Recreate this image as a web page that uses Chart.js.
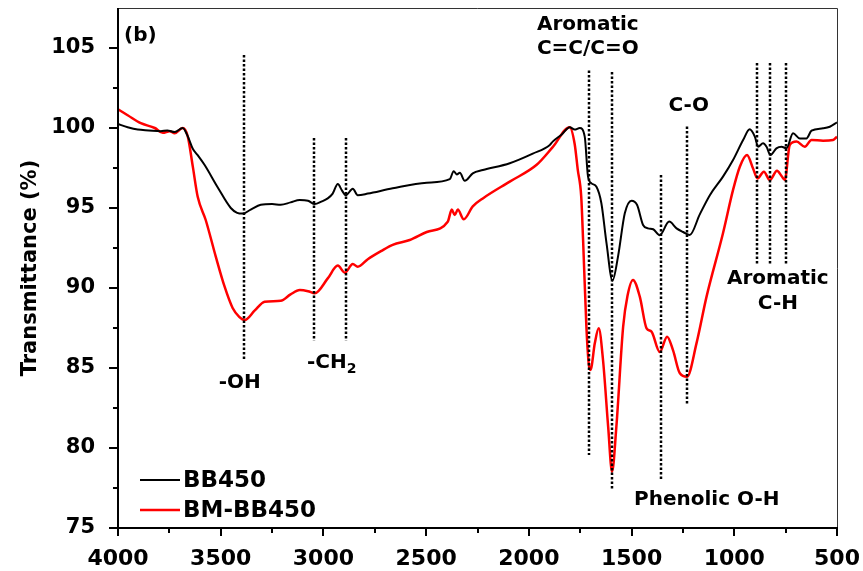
<!DOCTYPE html>
<html>
<head>
<meta charset="utf-8">
<script src="https://cdn.jsdelivr.net/npm/chart.js@4.4.0/dist/chart.umd.min.js"></script>
<style>
  html, body { margin: 0; padding: 0; background: #fff; }
  #wrap { width: 863px; height: 571px; }
</style>
</head>
<body>
<div id="wrap"><canvas id="ftir" width="863" height="571"></canvas></div>
<script>
// BB450 spectrum (wavenumber cm-1, transmittance %)
const bb450Wavenumber = [4000, 3953, 3904, 3850, 3792, 3760, 3724, 3685, 3661, 3636, 3612, 3579, 3515, 3451, 3420, 3393, 3354, 3305, 3250, 3208, 3160, 3115, 3075, 3042, 3010, 2979, 2955, 2930, 2910, 2891, 2857, 2833, 2784, 2663, 2497, 2385, 2366, 2351, 2336, 2312, 2273, 2224, 2093, 1981, 1898, 1884, 1840, 1801, 1777, 1752, 1728, 1712, 1695, 1671, 1647, 1622, 1593, 1566, 1533, 1500, 1473, 1444, 1420, 1395, 1363, 1317, 1281, 1249, 1217, 1168, 1119, 1055, 1006, 957, 925, 900, 884, 860, 843, 824, 795, 770, 746, 714, 681, 649, 624, 568, 535, 500];
const bb450Transmittance = [100.25, 100.05, 99.9, 99.85, 99.8, 99.85, 99.75, 100.0, 99.5, 98.7, 98.3, 97.7, 96.3, 95.0, 94.7, 94.65, 94.9, 95.2, 95.25, 95.2, 95.35, 95.5, 95.45, 95.25, 95.4, 95.6, 95.9, 96.5, 96.1, 95.8, 96.2, 95.8, 95.9, 96.23, 96.58, 96.8, 97.3, 97.1, 97.2, 96.7, 97.17, 97.37, 97.8, 98.4, 98.94, 99.15, 99.6, 100.05, 99.9, 100.0, 99.46, 96.96, 96.54, 96.33, 95.3, 92.8, 90.46, 91.96, 94.67, 95.46, 95.19, 93.94, 93.73, 93.67, 93.3, 94.15, 93.73, 93.5, 93.31, 94.6, 95.8, 96.96, 98.0, 99.25, 99.92, 99.46, 98.83, 99.04, 98.83, 98.31, 98.73, 98.83, 98.73, 99.67, 99.35, 99.35, 99.83, 99.98, 100.08, 100.35];

// BM-BB450 spectrum
const bmBb450Wavenumber = [4000, 3953, 3889, 3821, 3782, 3748, 3724, 3685, 3661, 3636, 3612, 3573, 3524, 3481, 3442, 3410, 3383, 3334, 3286, 3208, 3160, 3115, 3075, 3042, 2979, 2930, 2896, 2857, 2833, 2784, 2720, 2663, 2580, 2497, 2395, 2375, 2361, 2346, 2317, 2273, 2224, 2093, 1962, 1884, 1801, 1777, 1762, 1745, 1736, 1720, 1708, 1700, 1679, 1660, 1639, 1614, 1595, 1574, 1541, 1520, 1493, 1460, 1427, 1403, 1363, 1327, 1298, 1265, 1230, 1184, 1135, 1055, 1006, 973, 938, 909, 887, 856, 827, 792, 770, 754, 730, 697, 657, 624, 568, 519, 500];
const bmBb450Transmittance = [101.17, 100.8, 100.3, 100.0, 99.7, 99.8, 99.67, 100.0, 99.5, 97.6, 95.7, 94.25, 91.96, 90.08, 88.75, 88.2, 88.0, 88.6, 89.14, 89.2, 89.6, 89.87, 89.8, 89.67, 90.6, 91.4, 90.96, 91.5, 91.33, 91.8, 92.3, 92.7, 93.0, 93.5, 94.14, 94.9, 94.56, 94.9, 94.3, 95.1, 95.6, 96.65, 97.7, 98.8, 100.05, 99.0, 97.4, 95.7, 93.0, 87.6, 85.2, 84.88, 86.54, 87.48, 85.5, 81.33, 78.52, 81.33, 87.58, 89.5, 90.5, 89.46, 87.48, 87.27, 86.0, 86.96, 86.1, 84.67, 84.46, 86.54, 89.46, 93.42, 96.13, 97.58, 98.31, 97.48, 96.85, 97.27, 96.75, 97.33, 97.0, 96.75, 98.94, 99.15, 98.83, 99.25, 99.21, 99.25, 99.46];

const xMajorTicks = [4000, 3500, 3000, 2500, 2000, 1500, 1000, 500];
const xMinorTicks = [3750, 3250, 2750, 2250, 1750, 1250, 750];
const yMajorTicks = [75, 80, 85, 90, 95, 100, 105];
const yMinorTicks = [77.5, 82.5, 87.5, 92.5, 97.5, 102.5];

// dotted marker lines: [wavenumber, top %, bottom %]
const peakLines = [
  [3388, 104.56, 85.56],
  [3044, 99.38, 86.7],
  [2890, 99.38, 86.7],
  [1709, 103.6, 79.56],
  [1593, 103.5, 77.4],
  [1359, 97.06, 78.0],
  [1230, 100.1, 82.75],
  [887, 104.06, 91.4],
  [825, 104.06, 91.4],
  [746, 104.06, 91.4],
];

// band labels: [text, wavenumber, %, subscript]
const peakLabels = [
  ['-OH', 3407, 84.1],
  ['-CH', 2960, 85.3, '2'],
  ['Aromatic', 1713, 106.44],
  ['C=C/C=O', 1713, 104.94],
  ['C-O', 1222, 101.38],
  ['Aromatic', 788, 90.56],
  ['C-H', 788, 89.0],
  ['Phenolic O-H', 1134, 76.75],
];

const FONT = '"DejaVu Sans", "Liberation Sans", Arial, sans-serif';
Chart.defaults.font.family = FONT;
Chart.defaults.font.weight = 'bold';
Chart.defaults.color = '#000';

const toPoints = (xs, ys) => xs.map((v, i) => ({ x: v, y: ys[i] }));

// keep tick label overflow from shrinking the plot area
const noScalePadding = (scale) => {
  scale.paddingTop = 0;
  scale.paddingBottom = 0;
  scale.paddingLeft = 0;
  scale.paddingRight = 0;
};

const ftirDecor = {
  id: 'ftirDecor',
  afterDatasetsDraw(chart) {
    const { ctx, chartArea: a, scales: { x, y } } = chart;
    ctx.save();

    // dotted peak lines
    ctx.strokeStyle = '#000';
    ctx.lineWidth = 2.5;
    ctx.setLineDash([2.5, 2]);
    peakLines.forEach(([wn, top, bottom]) => {
      const px = Math.round(x.getPixelForValue(wn));
      ctx.beginPath();
      ctx.moveTo(px, y.getPixelForValue(top));
      ctx.lineTo(px, y.getPixelForValue(bottom));
      ctx.stroke();
    });
    ctx.setLineDash([]);

    // labels
    ctx.fillStyle = '#000';
    ctx.textBaseline = 'middle';
    peakLabels.forEach(([text, wn, val, sub]) => {
      const cx = x.getPixelForValue(wn);
      const cy = y.getPixelForValue(val);
      ctx.font = 'bold 20px ' + FONT;
      const w = ctx.measureText(text).width;
      let subW = 0;
      if (sub) {
        ctx.font = 'bold 14px ' + FONT;
        subW = ctx.measureText(sub).width;
      }
      const start = cx - (w + subW) / 2;
      ctx.font = 'bold 20px ' + FONT;
      ctx.textAlign = 'left';
      ctx.fillText(text, start, cy);
      if (sub) {
        ctx.font = 'bold 14px ' + FONT;
        ctx.fillText(sub, start + w, cy + 6);
      }
    });

    ctx.font = 'bold 20px ' + FONT;
    ctx.textAlign = 'left';
    ctx.fillText('(b)', a.left + 6, a.top + 28);

    // legend
    chart.data.datasets.forEach((ds, i) => {
      const ly = a.bottom - 48 + i * 30;
      ctx.strokeStyle = ds.borderColor;
      ctx.lineWidth = ds.borderWidth;
      ctx.beginPath();
      ctx.moveTo(a.left + 22, ly);
      ctx.lineTo(a.left + 62, ly);
      ctx.stroke();
      ctx.font = 'bold 23px ' + FONT;
      ctx.fillStyle = '#000';
      ctx.fillText(ds.label, a.left + 65, ly + 1);
    });

    // frame
    ctx.strokeStyle = '#333';
    ctx.lineWidth = 1;
    ctx.beginPath();
    ctx.moveTo(a.left, a.top + 0.5);
    ctx.lineTo(a.right + 0.5, a.top + 0.5);
    ctx.lineTo(a.right + 0.5, a.bottom);
    ctx.stroke();
    ctx.strokeStyle = '#000';
    ctx.lineWidth = 2;
    ctx.beginPath();
    ctx.moveTo(a.left, a.top);
    ctx.lineTo(a.left, a.bottom);
    ctx.lineTo(a.right + 1, a.bottom);
    ctx.stroke();

    // tick marks
    ctx.lineWidth = 2;
    xMajorTicks.concat(xMinorTicks).forEach((t) => {
      const px = Math.round(x.getPixelForValue(t));
      const len = xMajorTicks.includes(t) ? 8 : 5;
      ctx.beginPath();
      ctx.moveTo(px, a.bottom);
      ctx.lineTo(px, a.bottom + len);
      ctx.stroke();
    });
    yMajorTicks.concat(yMinorTicks).forEach((t) => {
      const py = Math.round(y.getPixelForValue(t));
      const len = yMajorTicks.includes(t) ? 9 : 5;
      ctx.beginPath();
      ctx.moveTo(a.left, py);
      ctx.lineTo(a.left - len, py);
      ctx.stroke();
    });
    ctx.restore();
  },
};

new Chart(document.getElementById('ftir'), {
  type: 'line',
  data: {
    datasets: [
      {
        label: 'BB450',
        data: toPoints(bb450Wavenumber, bb450Transmittance),
        borderColor: '#000000',
        borderWidth: 2,
      },
      {
        label: 'BM-BB450',
        data: toPoints(bmBb450Wavenumber, bmBb450Transmittance),
        borderColor: '#ff0000',
        borderWidth: 2.5,
      },
    ],
  },
  options: {
    responsive: false,
    animation: false,
    devicePixelRatio: 1,
    layout: { autoPadding: false, padding: { top: 8, right: 26, bottom: 0, left: 0 } },
    elements: {
      point: { radius: 0 },
      line: { cubicInterpolationMode: 'monotone', fill: false },
    },
    plugins: {
      legend: { display: false },
      tooltip: { enabled: false },
    },
    scales: {
      x: {
        type: 'linear',
        reverse: true,
        min: 500,
        max: 4000,
        grid: { display: false, drawTicks: false },
        border: { display: false },
        afterBuildTicks: (scale) => {
          scale.ticks = xMajorTicks.map((v) => ({ value: v }));
        },
        afterFit: (scale) => {
          scale.height = 43;
          noScalePadding(scale);
        },
        ticks: {
          autoSkip: false,
          maxRotation: 0,
          padding: 18,
          font: { size: 22, weight: 'bold' },
          color: '#000',
          callback: (v) => String(v),
        },
      },
      y: {
        type: 'linear',
        min: 75,
        max: 107.5,
        grid: { display: false, drawTicks: false },
        border: { display: false },
        afterBuildTicks: (scale) => {
          scale.ticks = yMajorTicks.map((v) => ({ value: v }));
        },
        afterFit: (scale) => {
          scale.width = 118;
          noScalePadding(scale);
        },
        ticks: {
          padding: 23,
          font: { size: 21, weight: 'bold' },
          color: '#000',
        },
        title: {
          display: true,
          text: 'Transmittance (%)',
          font: { size: 21, weight: 'bold' },
          color: '#000',
          padding: { top: 18, bottom: 0 },
        },
      },
    },
  },
  plugins: [ftirDecor],
});
</script>
</body>
</html>
